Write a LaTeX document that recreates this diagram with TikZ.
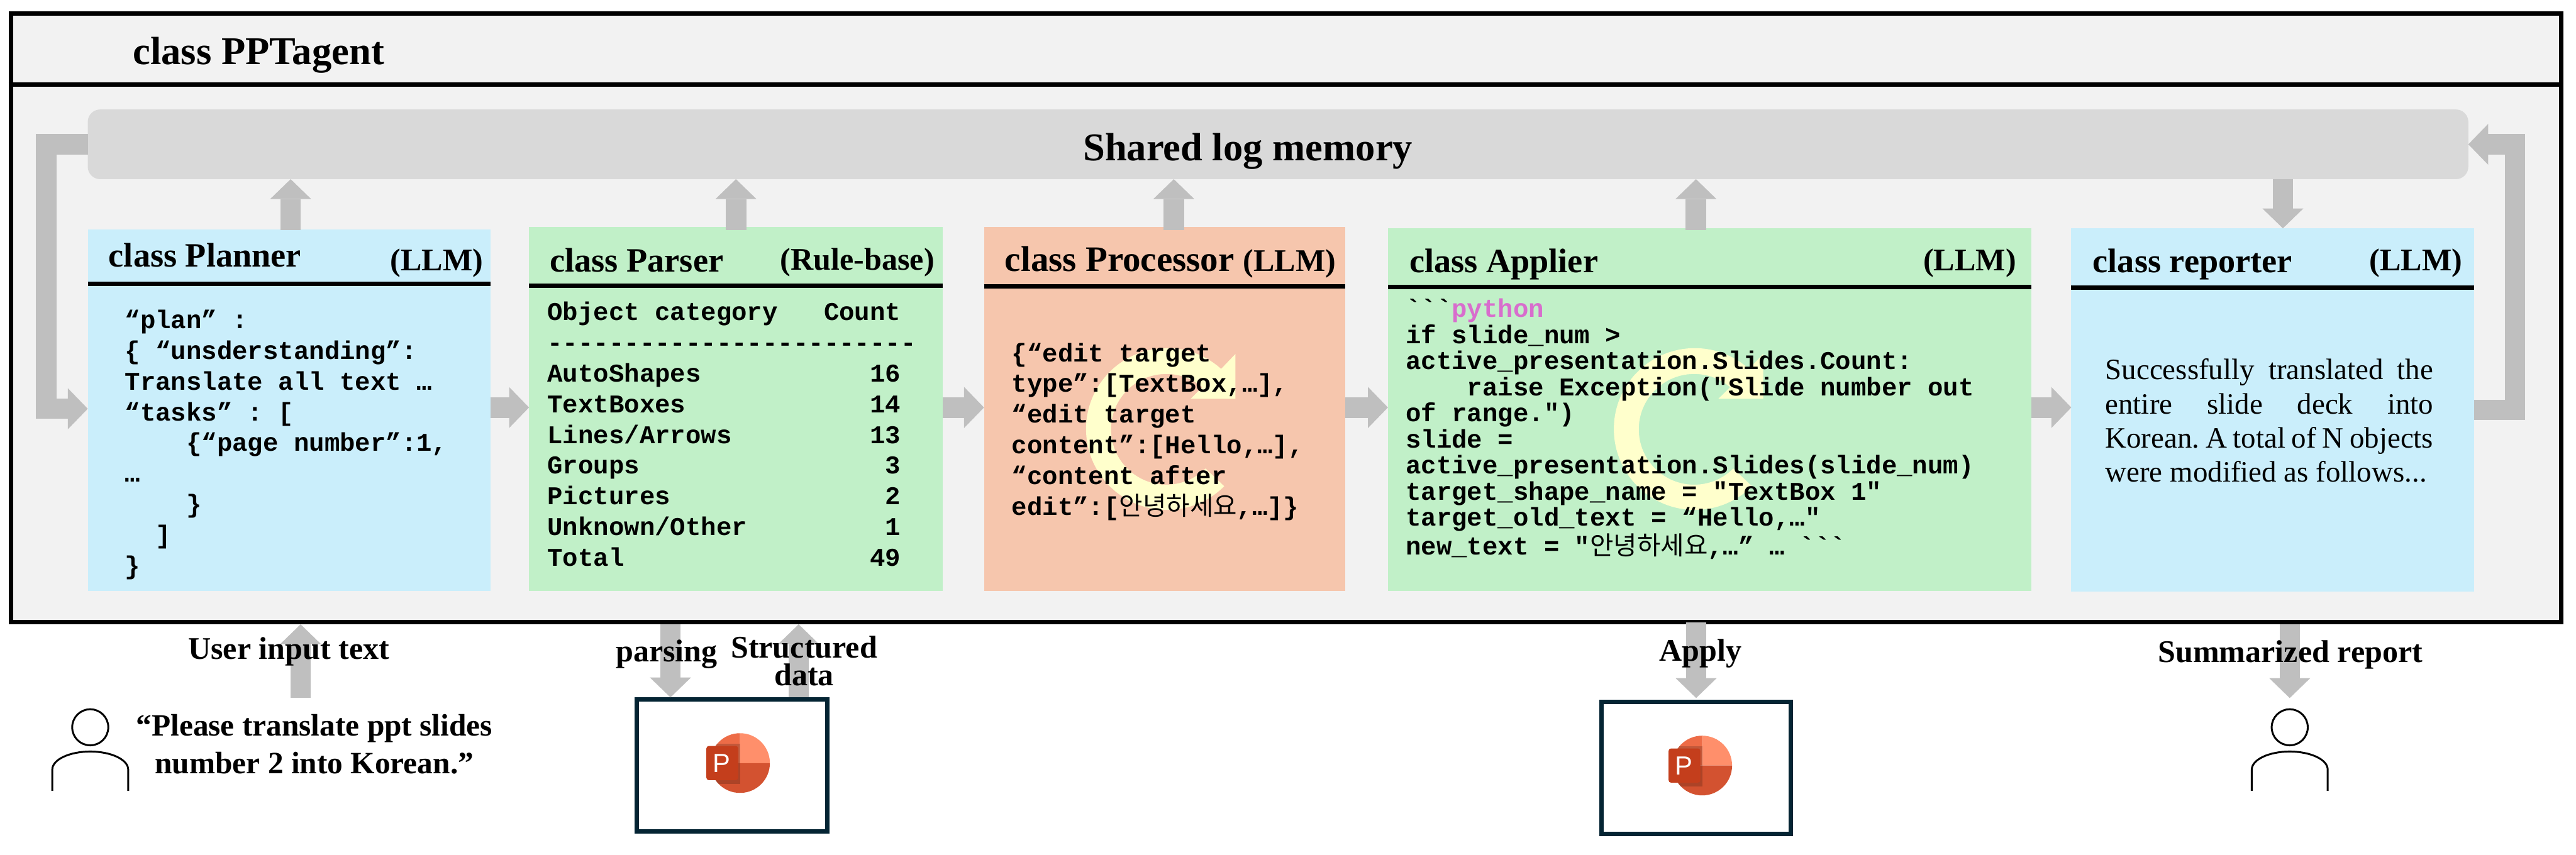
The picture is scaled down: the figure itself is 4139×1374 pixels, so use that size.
\documentclass[tikz,border=0pt]{standalone}
\usepackage{fontspec}
\setmainfont{Liberation Serif}
\setmonofont{Liberation Mono}
\newfontfamily\cjk{Noto Sans CJK KR}
\newfontfamily\logofont{Liberation Sans}
\newcommand{\hangul}[1]{{\cjk\mdseries #1}}
\definecolor{frameGray}{RGB}{242,242,242}
\definecolor{memoryGray}{RGB}{217,217,217}
\definecolor{flowGray}{RGB}{191,191,191}
\definecolor{panelBlue}{RGB}{202,238,251}
\definecolor{panelGreen}{RGB}{193,240,200}
\definecolor{panelOrange}{RGB}{246,198,173}
\definecolor{markYellow}{RGB}{255,255,204}
\definecolor{pythonPink}{RGB}{216,109,205}
\definecolor{deckNavy}{RGB}{4,36,51}
\usetikzlibrary{arrows.meta,shapes.geometric}
\tikzset{
  panel/.style={rectangle,fill=#1,anchor=north west,inner sep=0pt,outer sep=0pt},
  rulebar/.style={draw=black,line width=0.7mm},
  headfont/.style={font=\bfseries\fontsize{15.6}{18}\selectfont,inner sep=0pt,anchor=base west},
  tagfont/.style={font=\bfseries\fontsize{14.4}{17}\selectfont,inner sep=0pt,anchor=base east},
  lbl/.style={font=\bfseries\fontsize{14.4}{12.6}\selectfont,inner sep=0pt,align=center,anchor=base},
  code/.style={font=\ttfamily\bfseries\frenchspacing\fontsize{11.7}{#1}\selectfont,
    align=left,inner sep=0pt,anchor=base west},
  code/.default=14.05,
  flow/.style={draw=flowGray,line width=3.3mm,
    -{Triangle[width=6.6mm,length=3.2mm,line width=0pt]}},
  deck/.style={rectangle,draw=deckNavy,line width=0.65mm,fill=white,anchor=north west,inner sep=0pt},
  pics/redo/.style={code={
    \fill[markYellow] (87,-96) arc[start angle=48,end angle=315,radius=13mm] -- (62,64)
      arc[start angle=315,end angle=49.5,radius=8.9mm] -- (38,-48) -- (110,-48) -- (110,-120) -- cycle;
  }},
  pics/person/.style={code={
    \node[circle,draw,line width=0.3mm,minimum size=5.8mm,inner sep=0pt] (-head) at (0,0) {};
    \draw[line width=0.3mm] (-61,102) -- (-61,68)
      arc[start angle=180,end angle=0,x radius=6.1mm,y radius=2.9mm] -- (61,102);
  }},
  pics/pptlogo/.style={code={
    \fill[fill={rgb,255:red,255;green,143;blue,107}] (0,0) -- (0,-48) arc[start angle=90,end angle=0,radius=4.8mm] -- cycle;
    \fill[fill={rgb,255:red,237;green,108;blue,71}] (0,0) -- (0,-48) arc[start angle=90,end angle=180,radius=4.8mm] -- cycle;
    \fill[fill={rgb,255:red,211;green,82;blue,48}] (-48,0) arc[start angle=180,end angle=360,radius=4.8mm] -- cycle;
    \begin{scope}
      \clip (0,0) circle[radius=4.8mm];
      \fill[black,opacity=0.18] (-48,-31) rectangle (0,34);
    \end{scope}
    \fill[fill={rgb,255:red,196;green,62;blue,28},rounded corners=0.4mm] (-54,-27.5) rectangle (-3,27.5);
    \node[text=white,inner sep=0pt,font=\logofont\fontsize{12}{14}\selectfont] (-letter) at (-30,0.5) {P};
  }}
}
\begin{document}
\begin{tikzpicture}[x=0.1mm,y=-0.1mm]
  \useasboundingbox (0,0) rectangle (4139,1374);

  % class frame
  \node[rectangle,draw=black,line width=0.7mm,fill=frameGray,anchor=north west,inner sep=0pt,
    minimum width=409.75mm,minimum height=97.8mm] (agent) at (14,18.5) {};
  \draw[rulebar] ([yshift=-11.75mm]agent.north west) -- ([yshift=-11.75mm]agent.north east);
  \node[headfont,font=\bfseries\fontsize{18}{20}\selectfont] (agenttitle) at (213,104) {class PPTagent};

  \node[rectangle,fill=memoryGray,rounded corners=2mm,anchor=north west,inner sep=0pt,outer sep=0pt,
    minimum width=382.5mm,minimum height=11.2mm] (memory) at (141,176) {};
  \node[lbl,font=\bfseries\fontsize{18}{20}\selectfont] (memorytitle) at (2005,258) {Shared log memory};

  % panels
  \node[panel=panelBlue,minimum width=64.7mm,minimum height=58.1mm] (planner) at (141,369) {};
  \node[panel=panelGreen,minimum width=66.5mm,minimum height=58.5mm] (parser) at (850,365) {};
  \node[panel=panelOrange,minimum width=58mm,minimum height=58.5mm] (processor) at (1581,365) {};
  \node[panel=panelGreen,minimum width=103.4mm,minimum height=58.3mm] (applier) at (2230,367) {};
  \node[panel=panelBlue,minimum width=64.7mm,minimum height=58.4mm] (reporter) at (3328,367) {};

  \draw[rulebar] ([yshift=-8.7mm]planner.north west) -- ([yshift=-8.7mm]planner.north east);
  \draw[rulebar] ([yshift=-9.4mm]parser.north west) -- ([yshift=-9.4mm]parser.north east);
  \draw[rulebar] ([yshift=-9.5mm]processor.north west) -- ([yshift=-9.5mm]processor.north east);
  \draw[rulebar] ([yshift=-9.4mm]applier.north west) -- ([yshift=-9.4mm]applier.north east);
  \draw[rulebar] ([yshift=-9.5mm]reporter.north west) -- ([yshift=-9.5mm]reporter.north east);

  % arrows
  \coordinate (flowrow) at (0,655);
  \coordinate (leftrail) at (74,0);
  \coordinate (rightrail) at (4041,0);
  \draw[flow] ([xshift=0.25mm,yshift=-0.1mm]planner.north) -- ([xshift=0.25mm]planner.north |- memory.south);
  \draw[flow] ([yshift=-0.5mm]parser.north) -- (parser.north |- memory.south);
  \draw[flow] ([xshift=1.5mm,yshift=-0.5mm]processor.north) -- ([xshift=1.5mm]processor.north |- memory.south);
  \draw[flow] ([xshift=-2.2mm,yshift=-0.3mm]applier.north) -- ([xshift=-2.2mm]applier.north |- memory.south);
  \draw[flow] ([xshift=1.65mm]reporter.north |- memory.south) -- ([xshift=1.65mm]reporter.north);
  \draw[flow] (planner.east |- flowrow) -- (parser.west |- flowrow);
  \draw[flow] (parser.east |- flowrow) -- (processor.west |- flowrow);
  \draw[flow] (processor.east |- flowrow) -- (applier.west |- flowrow);
  \draw[flow] (applier.east |- flowrow) -- (reporter.west |- flowrow);
  \draw[flow] (memory.west) -- (memory.west -| leftrail) -- ([yshift=0.25mm]leftrail |- planner.west) -- ([yshift=0.25mm]planner.west);
  \draw[flow] (reporter.east) -- (rightrail |- reporter.east) -- (rightrail |- memory.east) -- (memory.east);

  \pic at (1875,689) {redo};
  \pic at (2723,689) {redo};

  % panel headings
  \node[headfont] (plannertitle) at (174,429) {class Planner};
  \node[tagfont] (plannertag) at (777,435) {(LLM)};
  \node[headfont] (parsertitle) at (883,437) {class Parser};
  \node[tagfont] (parsertag) at (1502,434) {(Rule-base)};
  \node[headfont,font=\bfseries\fontsize{16.4}{18}\selectfont] (processortitle) at (1614,436) {class Processor};
  \node[tagfont] (processortag) at (2147,436) {(LLM)};
  \node[headfont] (appliertitle) at (2264,438) {class Applier};
  \node[tagfont] (appliertag) at (3240,435) {(LLM)};
  \node[headfont] (reportertitle) at (3362,438) {class reporter};
  \node[tagfont] (reportertag) at (3957,435) {(LLM)};

  % panel contents
  \node[code] (plannercode) at (200,923) {%
    “plan” :\\
    \{ “unsderstanding”:\\
    Translate all text …\\
    “tasks” : [\\
    ~~~~\{“page number”:1,\\
    …\\
    ~~~~\}\\
    ~~]\\
    \}};
  \node[code] (parsercode) at (879,910) {%
    Object category~~~Count\\
    ------------------------\\
    AutoShapes~~~~~~~~~~~16\\
    TextBoxes~~~~~~~~~~~~14\\
    Lines/Arrows~~~~~~~~~13\\
    Groups~~~~~~~~~~~~~~~~3\\
    Pictures~~~~~~~~~~~~~~2\\
    Unknown/Other~~~~~~~~~1\\
    Total~~~~~~~~~~~~~~~~49};
  \node[code] (processorcode) at (1625,828) {%
    \{“edit target\\
    type”:[TextBox,…],\\
    “edit target\\
    content”:[Hello,…],\\
    “content after\\
    edit”:[\hangul{안녕하세요},…]\}};
  \node[code=11.95] (appliercode) at (2258,892) {%
    ```\textcolor{pythonPink}{python}\\
    if slide\_num >\\
    active\_presentation.Slides.Count:\\
    ~~~~raise Exception("Slide number out\\
    of range.")\\
    slide =\\
    active\_presentation.Slides(slide\_num)\\
    target\_shape\_name = "TextBox 1"\\
    target\_old\_text = “Hello,…"\\
    new\_text = "\hangul{안녕하세요},…” … ```};
  \node[font=\fontsize{13.5}{15.65}\selectfont,text width=52.7mm,align=justify,inner sep=0pt,anchor=base west] (reportertext) at (3382,610) {%
    \frenchspacing Successfully translated the\linebreak entire slide deck into\linebreak \mbox{Korean.} A total of N objects were modified as follows...};

  % outside the class
  \node[deck,minimum width=30.6mm,minimum height=21.2mm] (deckin) at (1020,1121) {};
  \node[deck,minimum width=30.4mm,minimum height=21.2mm] (deckout) at (2570,1125) {};
  \pic (logoin) at (1189,1226.5) {pptlogo};
  \pic (logoout) at (2735,1230.5) {pptlogo};
  \pic (userin) at (145,1169) {person};
  \pic (userout) at (3679,1169) {person};

  \coordinate (userport) at (483,1122);
  \coordinate (reportport) at (3679,1122);
  \draw[flow] (userport) -- (userport |- agent.south);
  \draw[flow] ([xshift=-9.9mm]deckin.north |- agent.south) -- ([xshift=-9.9mm]deckin.north);
  \draw[flow] ([xshift=10.7mm]deckin.north) -- ([xshift=10.7mm]deckin.north |- agent.south);
  \draw[flow] ([yshift=0.3mm]deckout.north |- agent.south) -- ([yshift=0.3mm]deckout.north);
  \draw[flow] (reportport |- agent.south) -- (reportport);

  \node[lbl] (userlabel) at (464,1060) {User input text};
  \node[lbl] (parselabel) at (1071,1064) {parsing};
  \node[lbl] (structlabel) at (1292,1102) {Structured\\data};
  \node[lbl] (applylabel) at (2732,1063) {Apply};
  \node[lbl] (reportlabel) at (3680,1065) {Summarized report};
  \node[lbl,font=\bfseries\fontsize{14.2}{17.2}\selectfont] (request) at (505,1243) {“Please translate ppt slides\\number 2 into Korean.”};
\end{tikzpicture}
\end{document}
